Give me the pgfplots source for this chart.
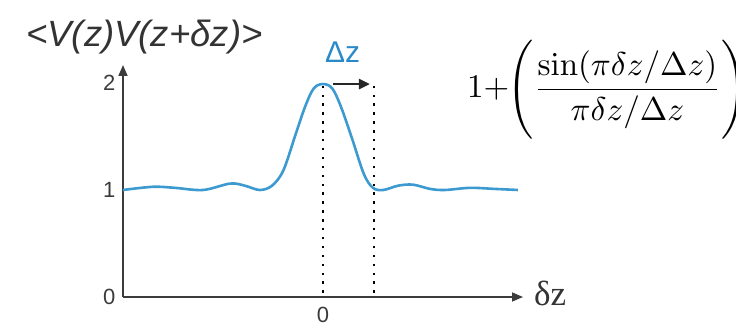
\documentclass[border=0pt]{standalone}
\usepackage{pgfplots}
\pgfplotsset{compat=1.18}
\usepackage[no-math]{fontspec}
\setmainfont{Liberation Sans}
\newfontfamily\serifT{Liberation Serif}
\usetikzlibrary{arrows.meta}
\definecolor{curveblue}{RGB}{60,154,208}
\definecolor{labelblue}{RGB}{42,138,200}
\definecolor{axisgray}{RGB}{60,60,60}
\begin{document}
\begin{tikzpicture}[x=1pt,y=1pt]
\path[use as bounding box] (0,0) rectangle (736,327);
\begin{axis}[
  at={(123pt,30pt)}, anchor=south west,
  scale only axis, width=400pt, height=232pt,
  xmin=-3.92, xmax=3.92, ymin=0, ymax=2.168,
  axis lines=left,
  axis line style={axisgray, line width=1.6pt, -{Triangle[length=11pt,width=9pt]}},
  xtick={0}, ytick={0,1,2},
  major tick length=0pt,
  /pgf/number format/assume math mode=true,
  yticklabel style={font=\fontsize{22}{26}\selectfont, text=axisgray, xshift=-4pt},
  xticklabel style={font=\fontsize{22}{26}\selectfont, text=axisgray, yshift=-7pt},
  clip=false,
]
\addplot[curveblue, line width=2.6pt, smooth, tension=0.55] coordinates {
(-3.92,1.00) (-3.33,1.03) (-2.90,1.02) (-2.35,1.00) (-1.82,1.06) (-1.53,1.04)
(-1.24,1.00) (-1.00,1.04) (-0.78,1.18) (-0.55,1.50) (-0.35,1.78) (-0.18,1.95)
(0,1.99) (0.18,1.95) (0.35,1.78) (0.57,1.48) (0.80,1.15) (0.98,1.02)
(1.18,1.00) (1.47,1.04) (1.76,1.05) (2.10,1.01) (2.39,1.00) (2.88,1.02)
(3.37,1.01) (3.82,1.00)
};
\draw[black, line width=2.4pt, dash pattern=on 2.4pt off 6.5pt] (axis cs:0,0.04) -- (axis cs:0,1.97);
\draw[black, line width=2.4pt, dash pattern=on 2.4pt off 6.5pt] (axis cs:1,0.04) -- (axis cs:1,1.97);
\draw[black!85, line width=2.6pt, -{Triangle[length=11pt,width=10pt]}] (axis cs:0.2,1.99) -- (axis cs:0.92,1.99);
\end{axis}
\node[anchor=base west, inner sep=0pt, text=black!80, font=\fontsize{36.5}{42}\selectfont\itshape] at (26,280) {<V(z)V(z+δz)>};
\node[anchor=base west, inner sep=0pt, text=labelblue, font=\fontsize{30}{36}\selectfont] at (325,264) {Δz};
\node[anchor=base west, inner sep=0pt, text=black!80, font=\fontsize{35}{42}\serifT] at (534,22) {δz};
\node[anchor=west, inner sep=0pt, font=\fontsize{10}{12}\selectfont] at (467,241) {\scalebox{3.3}{$\displaystyle 1\mkern-4mu+\mkern-5mu\Biggl(\frac{\sin(\pi\delta z/\Delta z)}{\pi\delta z/\Delta z}\Biggr)^{\!2}$}};
\end{tikzpicture}
\end{document}
